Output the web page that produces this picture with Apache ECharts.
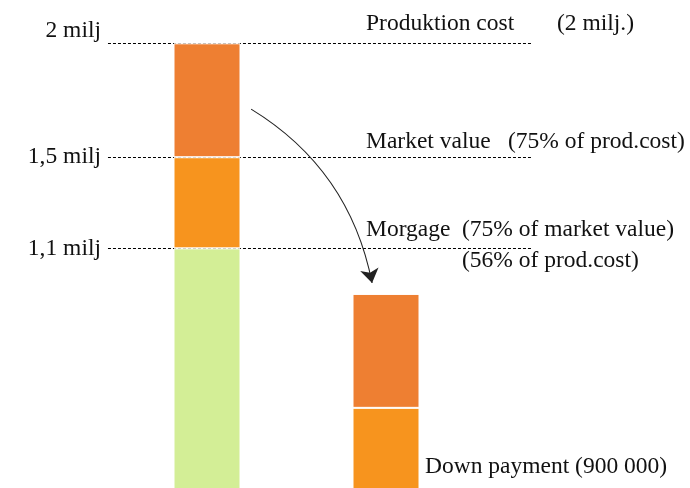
<!DOCTYPE html>
<html>
<head>
<meta charset="utf-8">
<script src="https://cdn.jsdelivr.net/npm/echarts@6/dist/echarts.min.js"></script>
<style>
html,body{margin:0;padding:0;background:#fff;}
#main{width:690px;height:488px;}
</style>
</head>
<body>
<div id="main"></div>
<script>
// Data (millions)
const categories = ['Produktion cost', 'Down payment'];
const mortgagePart = [1.1, 0];      // green: 0 -> 1,1 milj
const marketPart = [0.4, 0.4];      // light orange: 1,1 -> 1,5 milj
const prodPart = [0.5, 0.5];        // dark orange: 1,5 -> 2 milj
const tickValues = [2, 1.5, 1.1];
const tickLabels = ['2 milj', '1,5 milj', '1,1 milj'];
const arrowFrom = [1.247, 1.711];
const arrowTo = [1.923, 0.948];

const FONT = '"Liberation Serif", "Times New Roman", serif';
const FS = 23.5;
const YMAX = 2.19;

const chart = echarts.init(document.getElementById('main'), null, {renderer: 'canvas'});

const lineStartX = 0.447, lineEndX = 2.812;
const tickVAlign = ['bottom', 'middle', 'middle'];
const refLines = tickValues.map((v, i) => [
  {coord: [lineStartX, v], name: tickLabels[i],
   label: {show: true, position: 'start', distance: 7, formatter: '{b}', color: '#111',
           fontSize: FS, fontFamily: FONT, verticalAlign: tickVAlign[i]}},
  {coord: [lineEndX, v]}
]);

function txt(text, x, y) {
  return {type: 'text', x: x, y: y,
    style: {text: text, fill: '#111', fontSize: FS, fontFamily: FONT, verticalAlign: 'middle', align: 'left'}};
}

const barStyle = (c) => ({color: c, borderColor: '#fff', borderWidth: 1});

const option = {
  animation: false,
  backgroundColor: '#fff',
  grid: [
    {left: 28, right: 0, top: 0, height: 499, outerBoundsMode: 'none', containLabel: false},
    {left: 117.5, width: 358, top: 0, height: 499, outerBoundsMode: 'none', containLabel: false}
  ],
  xAxis: [
    {type: 'value', gridIndex: 0, min: 0, max: 3.7, show: false},
    {type: 'category', gridIndex: 1, data: categories, show: false}
  ],
  yAxis: [
    {type: 'value', gridIndex: 0, min: 0, max: YMAX, show: false},
    {type: 'value', gridIndex: 1, min: 0, max: YMAX, show: false}
  ],
  series: [
    {
      name: 'Morgage', type: 'bar', stack: 'a', barWidth: 67,
      xAxisIndex: 1, yAxisIndex: 1,
      data: mortgagePart,
      itemStyle: barStyle('#D3EE96')
    },
    {
      name: 'Market value', type: 'bar', stack: 'a', barWidth: 67,
      xAxisIndex: 1, yAxisIndex: 1,
      data: marketPart,
      itemStyle: barStyle('#F7941E')
    },
    {
      name: 'Produktion cost', type: 'bar', stack: 'a', barWidth: 67,
      xAxisIndex: 1, yAxisIndex: 1,
      data: prodPart,
      itemStyle: barStyle('#EE7F32')
    },
    {
      name: 'refs', type: 'line', xAxisIndex: 0, yAxisIndex: 0, data: [],
      markLine: {
        silent: true, z: 1, symbol: 'none',
        lineStyle: {type: [3, 2], color: '#000', width: 1},
        label: {show: false},
        data: refLines
      }
    },
    {
      name: 'arrow', type: 'lines', coordinateSystem: 'cartesian2d',
      xAxisIndex: 0, yAxisIndex: 0, silent: true, z: 3,
      symbol: ['none', 'arrow'], symbolSize: [1, 14],
      lineStyle: {color: '#222', width: 1.1, curveness: 0.22, opacity: 1},
      data: [{coords: [arrowFrom, arrowTo]}]
    }
  ],
  graphic: [
    txt('Produktion cost', 366, 24),
    txt('(2 milj.)', 557, 24),
    txt('Market value', 366, 142),
    txt('(75% of prod.cost)', 508, 142),
    txt('Morgage', 366, 230),
    txt('(75% of market value)', 462, 230),
    txt('(56% of prod.cost)', 462, 261),
    txt('Down payment (900 000)', 425, 467)
  ]
};
chart.setOption(option);
</script>
</body>
</html>
